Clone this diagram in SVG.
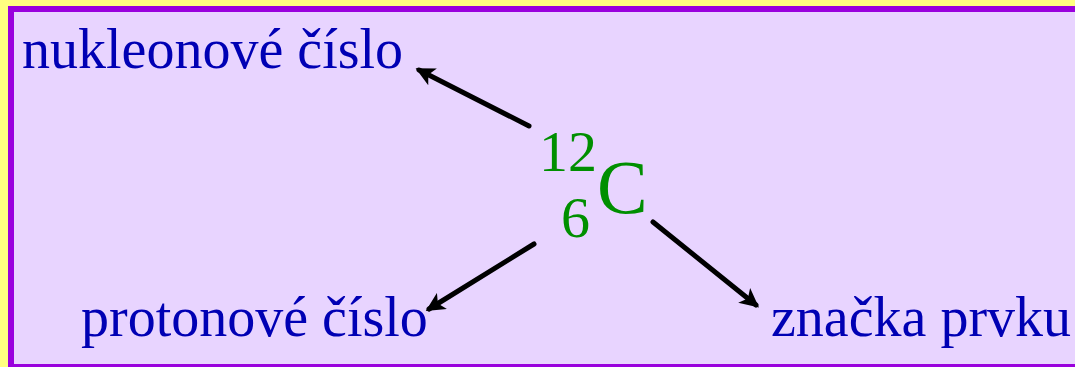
<svg xmlns="http://www.w3.org/2000/svg" width="1075" height="367" viewBox="0 0 1075 367">
<style>
text{font-family:'Liberation Serif','Times New Roman',Times,serif}
.lbl{font-size:56px;fill:#0000B4}
.iso{fill:#008F00}
.arr{stroke:#000;stroke-width:5;stroke-linecap:round;fill:none;marker-end:url(#ah)}
</style>
<defs>
<marker id="ah" viewBox="0 0 10 10" refX="8" refY="5" markerWidth="4.4" markerHeight="3.8" markerUnits="strokeWidth" orient="auto">
<path d="M0,0 L10,5 L0,10 L2.5,5 Z" fill="#000"/>
</marker>
</defs>
<rect x="0" y="0" width="1075" height="367" fill="#FFFF80"/>
<rect x="8" y="6" width="1080" height="361" fill="#9900DD"/>
<rect x="14" y="12" width="1070" height="352" fill="#E8D4FF"/>
<g id="connectors">
<line class="arr" x1="529" y1="126" x2="419" y2="70"/>
<line class="arr" x1="534" y1="244" x2="429" y2="309"/>
<line class="arr" x1="653" y1="222" x2="756" y2="305"/>
</g>
<g id="n-nukleonove"><text class="lbl" x="22" y="68" font-family="Liberation Serif, serif">nukleonové číslo</text></g>
<g id="n-protonove"><text class="lbl" x="81" y="336" font-family="Liberation Serif, serif">protonové číslo</text></g>
<g id="n-znacka"><text class="lbl" x="771" y="336" font-family="Liberation Serif, serif">značka prvku</text></g>
<g id="n-isotope">
<text class="iso" x="539" y="171" font-size="58" font-family="Liberation Serif, serif">12</text>
<text class="iso" x="561" y="237" font-size="58" font-family="Liberation Serif, serif">6</text>
<text class="iso" x="597" y="213" font-size="76" font-family="Liberation Serif, serif">C</text>
</g>
</svg>
